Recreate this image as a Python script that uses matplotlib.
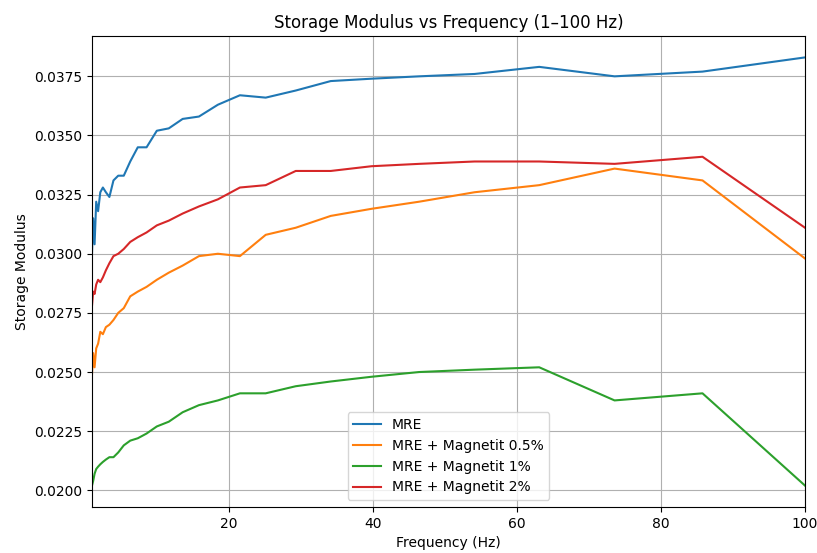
import matplotlib
matplotlib.use("Agg")
import matplotlib.pyplot as plt

freq = [1.0, 1.166, 1.359, 1.585, 1.848, 2.154, 2.512, 2.929, 3.415, 3.981,
        4.642, 5.412, 6.310, 7.356, 8.577, 10.0, 11.66, 13.59, 15.85, 18.48,
        21.54, 25.12, 29.29, 34.15, 39.81, 46.42, 54.12, 63.10, 73.56, 85.77, 100.0]

mre = [0.0300, 0.0315, 0.0304, 0.0322, 0.0318, 0.0326, 0.0328, 0.0326, 0.0324, 0.0331,
       0.0333, 0.0333, 0.0339, 0.0345, 0.0345, 0.0352, 0.0353, 0.0357, 0.0358, 0.0363,
       0.0367, 0.0366, 0.0369, 0.0373, 0.0374, 0.0375, 0.0376, 0.0379, 0.0375, 0.0377, 0.0383]

mag05 = [0.0249, 0.0258, 0.0252, 0.0260, 0.0262, 0.0267, 0.0266, 0.0269, 0.0270, 0.0272,
         0.0275, 0.0277, 0.0282, 0.0284, 0.0286, 0.0289, 0.0292, 0.0295, 0.0299, 0.0300,
         0.0299, 0.0308, 0.0311, 0.0316, 0.0319, 0.0322, 0.0326, 0.0329, 0.0336, 0.0331, 0.0298]

mag1 = [0.0202, 0.0204, 0.0207, 0.0209, 0.0210, 0.0211, 0.0212, 0.0213, 0.0214, 0.0214,
        0.0216, 0.0219, 0.0221, 0.0222, 0.0224, 0.0227, 0.0229, 0.0233, 0.0236, 0.0238,
        0.0241, 0.0241, 0.0244, 0.0246, 0.0248, 0.0250, 0.0251, 0.0252, 0.0238, 0.0241, 0.0202]

mag2 = [0.0278, 0.0284, 0.0283, 0.0287, 0.0289, 0.0288, 0.0290, 0.0293, 0.0296, 0.0299,
        0.0300, 0.0302, 0.0305, 0.0307, 0.0309, 0.0312, 0.0314, 0.0317, 0.0320, 0.0323,
        0.0328, 0.0329, 0.0335, 0.0335, 0.0337, 0.0338, 0.0339, 0.0339, 0.0338, 0.0341, 0.0311]

labels = ["MRE", "MRE + Magnetit 0.5%", "MRE + Magnetit 1%", "MRE + Magnetit 2%"]

fig = plt.figure(figsize=(8.17, 5.53), dpi=100)
ax = fig.add_axes([0.1126, 0.0832, 0.8727, 0.8517])
for series, lab in zip([mre, mag05, mag1, mag2], labels):
    ax.plot(freq, series, label=lab)

ax.set_xlim(1, 100)
ax.set_title("Storage Modulus vs Frequency (1\u2013100 Hz)")
ax.set_xlabel("Frequency (Hz)")
ax.set_ylabel("Storage Modulus")
ax.grid(True)
ax.legend(loc="lower center")
fig.savefig("out.png", dpi=100)
